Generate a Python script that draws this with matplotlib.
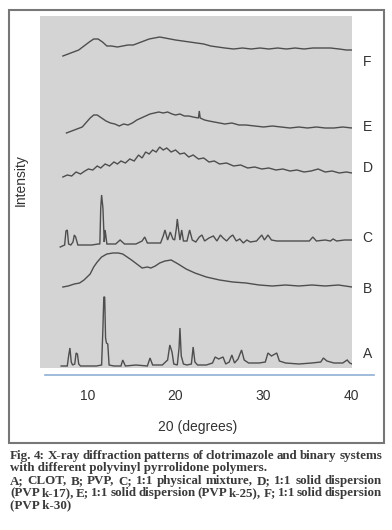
import numpy as np
import matplotlib
matplotlib.use("Agg")
import matplotlib.pyplot as plt
from matplotlib.patches import Rectangle
from matplotlib.lines import Line2D

# --- XRD patterns (2-theta in degrees, stacked intensity) ---
# A: clotrimazole (crystalline)
A_2t = [7.0, 7.7, 7.85, 8.0, 8.15, 8.3, 8.55, 8.7, 8.85, 9.0, 9.2, 10.0, 11.0,
        11.6, 11.75, 11.85, 11.95, 12.05, 12.15, 12.3, 12.45, 13.0, 13.8, 14.0,
        14.3, 15.5, 16.8, 17.1, 17.4, 18.5, 19.1, 19.35, 19.6, 19.8, 20.2, 20.4,
        20.5, 20.65, 20.9, 21.3, 21.8, 22.0, 22.2, 22.5, 23.5, 24.2, 24.5, 24.9,
        25.4, 25.7, 26.1, 26.4, 26.7, 27.1, 27.5, 27.8, 28.3, 29.5, 30.2, 30.5,
        30.9, 31.5, 31.8, 32.5, 34.0, 35.5, 36.5, 36.8, 37.2, 38.0, 39.0, 39.5,
        39.8, 40.05]
A_int = [2, 2, 12, 20, 6, 3, 4, 15, 14, 4, 2, 2, 2,
         3, 40, 71, 71, 30, 25, 24, 3, 2, 2, 8,
         2, 3, 2, 10, 3, 3, 8, 23, 16, 4, 3, 20,
         40, 12, 4, 3, 4, 21, 6, 3, 3, 5, 11, 9,
         11, 4, 6, 13, 5, 9, 18, 8, 5, 5, 6, 15,
         12, 15, 7, 5, 4, 5, 6, 10, 7, 5, 5, 8,
         5, 4]

# B: PVP (amorphous halo)
B_2t = [7.2, 7.8, 8.5, 9.1, 9.6, 10.3, 10.7, 11.1, 11.6, 12.2, 12.9, 13.5,
        14.0, 14.5, 15.0, 15.6, 16.2, 16.8, 17.2, 17.7, 18.2, 18.8, 19.5,
        20.3, 21.2, 22.2, 23.5, 25.0, 26.5, 28.0, 29.5, 31.0, 32.5, 34.0,
        35.5, 37.0, 38.5, 40.05]
B_int = [81, 82, 84, 85, 88, 94, 101, 106, 111, 114, 115, 115,
         114, 111, 108, 104, 100, 101, 100, 102, 105, 107, 108,
         104, 99, 95, 91, 88, 86, 85, 83, 82, 83, 82,
         83, 82, 83, 81]

# C: 1:1 physical mixture
C_2t = [6.9, 7.4, 7.55, 7.7, 7.85, 8.1, 8.35, 8.5, 8.65, 8.9, 9.5, 10.5,
        11.2, 11.4, 11.5, 11.6, 11.75, 11.9, 12.0, 12.2, 13.2, 13.7, 14.2,
        15.5, 16.2, 16.5, 16.8, 18.3, 18.6, 18.8, 19.1, 19.4, 19.7, 19.9,
        20.1, 20.2, 20.35, 20.5, 20.7, 20.9, 21.3, 21.6, 21.9, 22.3, 22.7,
        23.0, 23.3, 23.8, 24.3, 24.7, 25.1, 25.4, 25.8, 26.2, 26.5, 26.9,
        27.3, 27.7, 28.1, 28.5, 29.2, 29.6, 29.8, 30.1, 30.5, 30.9, 31.5,
        33.0, 34.5, 35.2, 35.6, 36.0, 37.0, 37.6, 37.9, 38.3, 39.2, 40.05]
C_int = [121, 123, 137, 138, 124, 123, 126, 133, 131, 123, 123, 123,
         124, 124, 160, 173, 160, 126, 138, 124, 124, 128, 124,
         124, 127, 131, 125, 125, 132, 138, 128, 136, 129, 128,
         140, 149, 138, 128, 138, 127, 127, 138, 128, 126, 131,
         133, 127, 130, 132, 127, 133, 130, 127, 131, 133, 127,
         129, 125, 128, 126, 127, 131, 133, 128, 133, 128, 127,
         127, 127, 127, 131, 127, 128, 127, 129, 127, 128, 128]

# D: 1:1 solid dispersion (PVP k-17)
D_2t = [7.2, 7.7, 8.2, 8.7, 9.2, 9.7, 10.1, 10.6, 11.1, 11.5, 12.0, 12.5,
        13.0, 13.4, 13.8, 14.3, 14.8, 15.3, 15.8, 16.2, 16.6, 17.0, 17.4,
        17.8, 18.2, 18.6, 19.0, 19.5, 20.0, 20.5, 21.0, 21.5, 22.0, 22.6,
        23.2, 23.8, 24.4, 25.0, 25.8, 26.6, 27.4, 28.2, 29.0, 29.8, 30.6,
        31.4, 32.2, 33.0, 33.8, 34.6, 35.4, 36.2, 37.0, 37.8, 38.6, 39.4,
        40.05]
D_int = [191, 193, 192, 196, 194, 197, 199, 198, 202, 200, 204, 202,
         206, 204, 207, 205, 209, 207, 213, 210, 216, 214, 218,
         216, 221, 218, 220, 216, 218, 214, 215, 211, 213, 209,
         210, 206, 207, 204, 205, 202, 203, 200, 201, 199, 200,
         198, 199, 197, 198, 196, 197, 199, 196, 197, 195, 196,
         195]

# E: 1:1 solid dispersion (PVP k-25)
E_2t = [7.6, 8.2, 8.8, 9.4, 9.9, 10.3, 10.7, 11.1, 11.6, 12.1, 12.6, 13.1,
        13.6, 14.1, 14.6, 15.1, 15.6, 16.1, 16.6, 17.1, 17.6, 18.1, 18.6,
        19.1, 19.6, 20.0, 20.5, 21.0, 21.5, 22.0, 22.6, 22.7, 22.8, 23.3,
        23.8, 24.4, 25.0, 25.6, 26.4, 27.2, 28.0, 29.0, 30.0, 31.0, 32.0,
        33.0, 34.0, 35.0, 36.0, 37.0, 38.0, 39.0, 40.05]
E_int = [235, 237, 239, 241, 246, 250, 253, 253, 250, 247, 245, 244,
         242, 244, 243, 245, 248, 250, 252, 254, 255, 256, 255,
         256, 254, 253, 254, 252, 252, 251, 250, 257, 250, 248,
         247, 246, 245, 244, 245, 243, 243, 242, 241, 242, 241,
         240, 241, 240, 241, 240, 240, 241, 240]

# F: 1:1 solid dispersion (PVP k-30)
F_2t = [7.2, 7.8, 8.4, 9.0, 9.6, 10.2, 10.7, 11.2, 11.7, 12.2, 12.7, 13.4,
        14.0, 14.6, 15.2, 15.8, 16.4, 17.0, 17.6, 18.2, 18.8, 19.4, 20.0,
        20.8, 21.6, 22.4, 23.2, 24.0, 24.8, 25.6, 26.6, 27.6, 28.6, 29.6,
        30.6, 31.6, 32.6, 33.6, 34.6, 35.6, 36.6, 37.6, 38.6, 39.4, 40.05]
F_int = [312, 314, 316, 318, 322, 326, 329, 329, 326, 322, 322, 321,
         322, 323, 323, 325, 327, 329, 330, 331, 330, 329, 328,
         327, 326, 325, 324, 322, 321, 320, 319, 320, 319, 320,
         319, 320, 319, 320, 319, 320, 320, 320, 319, 318, 318]

labels = ["A", "B", "C", "D", "E", "F"]
label_y = [14, 79, 130, 200, 241, 306]
patterns = [(A_2t, A_int), (B_2t, B_int), (C_2t, C_int),
            (D_2t, D_int), (E_2t, E_int), (F_2t, F_int)]
xticks = [10, 20, 30, 40]

caption = [
    "Fig. 4: X-ray diffraction patterns of clotrimazole and binary systems",
    "with different polyvinyl pyrrolidone polymers.",
    "A; CLOT, B; PVP, C; 1:1 physical mixture, D; 1:1 solid dispersion",
    "(PVP k-17), E; 1:1 solid dispersion (PVP k-25), F; 1:1 solid dispersion",
    "(PVP k-30)",
]
justified = [True, False, True, True, False]

W, H = 392, 530
fig = plt.figure(figsize=(W / 100, H / 100), dpi=100)
fig.patch.set_facecolor("white")

# plot area = grey scanned panel
ax = fig.add_axes([40 / W, 1 - 368 / H, 312 / W, 352 / H])
ax.set_facecolor("#d4d4d4")
for s in ax.spines.values():
    s.set_visible(False)

for x, y in patterns:
    ax.plot(x, y, color="#4e4e4e", lw=1.0, solid_joinstyle="miter")

ax.set_xlim(4.6, 40.05)
ax.set_ylim(0, 352)
ax.set_yticks([])
ax.set_xticks(xticks)
ax.set_xticklabels([str(t) for t in xticks], family="Liberation Sans",
                   fontsize=10, color="#333333")
ax.tick_params(axis="x", length=0, pad=15)

for lab, yy in zip(labels, label_y):
    ax.text(1.05, yy, lab, transform=ax.get_yaxis_transform(),
            ha="center", va="center", fontsize=10, family="Liberation Sans",
            color="#333333", clip_on=False)

ax.set_ylabel("Intensity", family="Liberation Sans", fontsize=10,
              color="#333333")
ax.yaxis.set_label_coords(-0.038, 0.534)

# blue axis line under the panel
fig.add_artist(Line2D([45 / W, 374 / W], [1 - 375 / H, 1 - 375 / H],
                      color="#8fb0d4", lw=1.2))

fig.text(198 / W, 1 - 427 / H, "20 (degrees)", ha="center", va="center",
         family="Liberation Sans", fontsize=10, color="#333333")

# outer frame of the figure box
fig.add_artist(Rectangle((9 / W, 1 - 443 / H), 375 / W, 433 / H,
                         fill=False, edgecolor="#777777", lw=1.5))

# caption, justified between x=10 and x=382 px
renderer = fig.canvas.get_renderer()
cap_kw = dict(family="Liberation Serif", fontweight="bold", fontsize=9.4,
              color="#3a3a3a", va="center", ha="left")
x_left, x_right = 10, 382
for i, (line, just) in enumerate(zip(caption, justified)):
    y = 1 - (456 + 12.3 * i) / H
    if not just:
        fig.text(x_left / W, y, line, **cap_kw)
        continue
    words = line.split(" ")
    arts = [fig.text(0, y, w, **cap_kw) for w in words]
    widths = [a.get_window_extent(renderer).width for a in arts]
    gap = (x_right - x_left - sum(widths)) / (len(words) - 1)
    xpos = x_left
    for a, wd in zip(arts, widths):
        a.set_x(xpos / W)
        xpos += wd + gap

fig.savefig("out.png", dpi=100, facecolor="white")
